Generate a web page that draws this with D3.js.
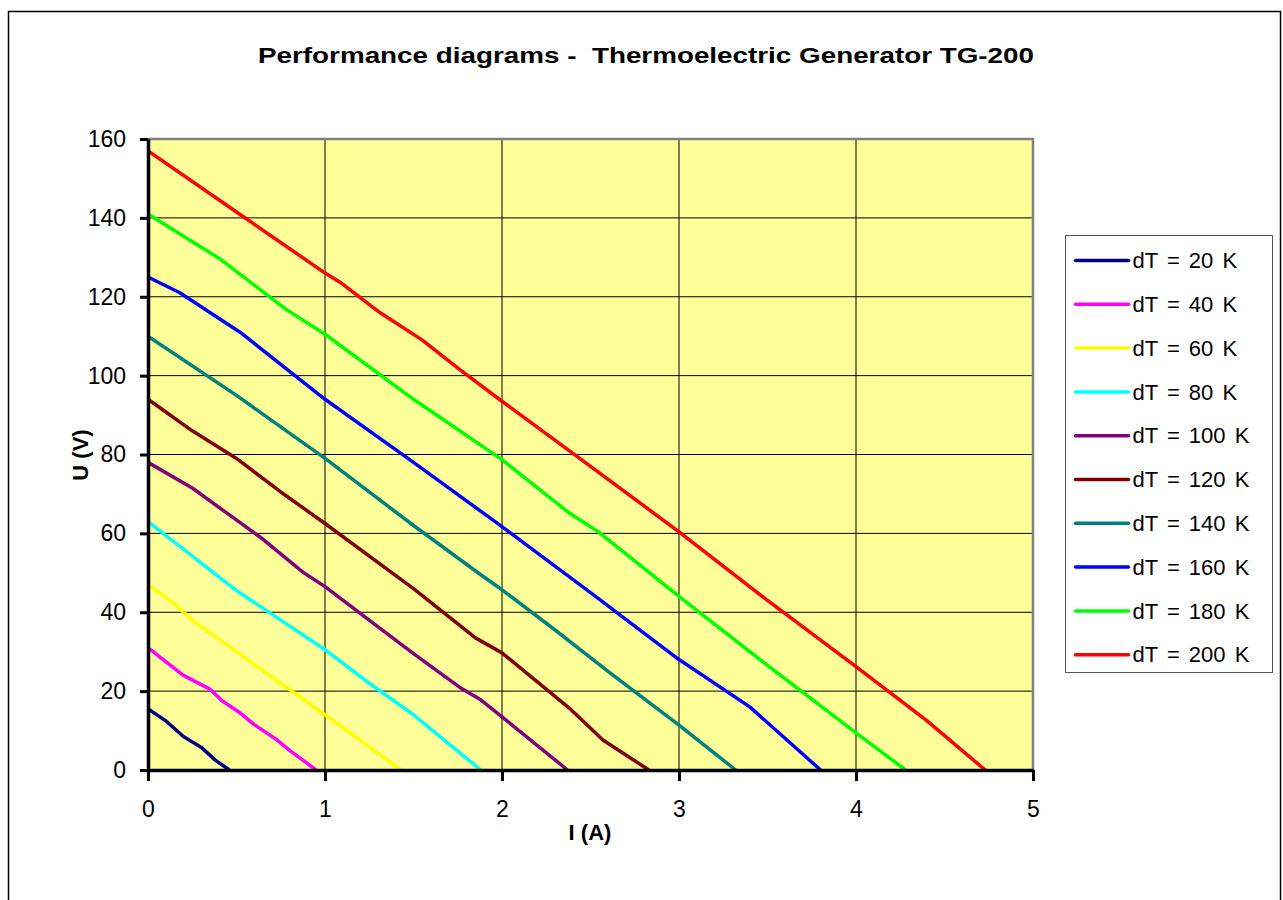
<!DOCTYPE html>
<html>
<head>
<meta charset="utf-8">
<script src="https://cdn.jsdelivr.net/npm/d3@7"></script>
<style>
  body { margin: 0; background: #fff; }
  svg text { font-family: Arial, "Liberation Sans", sans-serif; }
</style>
</head>
<body>
<div id="chart"></div>
<script>
// [I (A), U (V)] points
const dT20 = [[0, 15.5], [0.1, 12.5], [0.2, 8.5], [0.3, 5.8], [0.38, 2.5], [0.46, 0]];
const dT40 = [[0, 31], [0.1, 27.5], [0.2, 24], [0.35, 20.5], [0.42, 17.5], [0.52, 14.5], [0.6, 11.5], [0.73, 7.6], [0.8, 5], [0.95, 0]];
const dT60 = [[0, 47], [0.14, 42.5], [0.25, 38], [0.5, 30], [0.75, 22], [1, 14], [1.2, 7.5], [1.43, 0]];
const dT80 = [[0, 63], [0.2, 56], [0.5, 45.5], [0.75, 38], [1, 30.5], [1.25, 22], [1.5, 14], [1.88, 0]];
const dT100 = [[0, 78], [0.25, 71.5], [0.45, 65], [0.65, 58.5], [0.88, 50], [1, 46.5], [1.27, 37.3], [1.5, 29.5], [1.76, 21], [1.88, 17.8], [2, 13.5], [2.37, 0]];
const dT120 = [[0, 94], [0.25, 86], [0.5, 79], [0.75, 70.5], [1, 62.5], [1.5, 46], [1.85, 33.5], [2, 29.7], [2.1, 26], [2.38, 15.7], [2.57, 7.6], [2.83, 0]];
const dT140 = [[0, 110], [0.5, 95], [1, 79], [1.5, 62], [1.88, 49.5], [2, 45.7], [2.3, 35.5], [2.61, 24.6], [3, 11.4], [3.32, 0]];
const dT160 = [[0, 125], [0.18, 121], [0.52, 111], [1, 94], [1.5, 78], [2, 61.7], [2.5, 45], [3, 28], [3.4, 16], [3.8, 0]];
const dT180 = [[0, 141], [0.41, 129.5], [0.78, 116.8], [1, 110.5], [1.5, 94], [2, 78.7], [2.37, 65.5], [2.55, 60.2], [3, 44], [3.5, 26.5], [4, 9.4], [4.28, 0]];
const dT200 = [[0, 157], [0.5, 141.5], [1, 126], [1.085, 123.7], [1.31, 116], [1.55, 109], [1.76, 101.6], [2, 93.5], [2.5, 77], [3, 60.4], [3.5, 43], [4, 26.2], [4.4, 12.5], [4.73, 0]];

const seriesNames = ["dT = 20 K", "dT = 40 K", "dT = 60 K", "dT = 80 K", "dT = 100 K",
                     "dT = 120 K", "dT = 140 K", "dT = 160 K", "dT = 180 K", "dT = 200 K"];
const seriesValues = [dT20, dT40, dT60, dT80, dT100, dT120, dT140, dT160, dT180, dT200];
const seriesColors = ["#000080", "#ff00ff", "#ffff00", "#00ffff", "#800080",
                      "#800000", "#008080", "#0000ff", "#00ff00", "#ff0000"];

const xTicks = [0, 1, 2, 3, 4, 5];
const yTicks = [0, 20, 40, 60, 80, 100, 120, 140, 160];

const width = 1283;
const height = 900;
const margin = { top: 139, right: 250, bottom: 130, left: 148 };
const plotW = width - margin.left - margin.right;   // 885
const plotH = height - margin.top - margin.bottom;  // 631

const svg = d3.select("#chart")
    .append("svg")
    .attr("width", width)
    .attr("height", height);

// outer chart border
svg.append("rect")
    .attr("x", 8.5)
    .attr("y", 11.5)
    .attr("width", 1272)
    .attr("height", 900)
    .attr("fill", "#fff")
    .attr("stroke", "#000")
    .attr("stroke-width", 1.5);

svg.append("text")
    .text("Performance diagrams -  Thermoelectric Generator TG-200")
    .attr("x", 646)
    .attr("y", 63)
    .attr("text-anchor", "middle")
    .attr("font-weight", "bold")
    .attr("font-size", 22)
    .attr("textLength", 776)
    .attr("lengthAdjust", "spacingAndGlyphs")
    .style("white-space", "pre");

const x = d3.scaleLinear().domain([0, 5]).range([0, plotW]);
const y = d3.scaleLinear().domain([0, 160]).range([plotH, 0]);

const g = svg.append("g")
    .attr("transform", "translate(" + margin.left + "," + margin.top + ")");

g.append("rect")
    .attr("width", plotW)
    .attr("height", plotH)
    .attr("fill", "#ffff99");

// grid
g.append("g")
    .selectAll("line")
    .data(yTicks.slice(1, -1))
    .join("line")
    .attr("x1", 0)
    .attr("x2", plotW)
    .attr("y1", d => y(d))
    .attr("y2", d => y(d))
    .attr("stroke", "#000")
    .attr("stroke-width", 1);

g.append("g")
    .selectAll("line")
    .data(xTicks.slice(1, -1))
    .join("line")
    .attr("x1", d => x(d))
    .attr("x2", d => x(d))
    .attr("y1", 0)
    .attr("y2", plotH)
    .attr("stroke", "#000")
    .attr("stroke-width", 1);

// gray plot frame top/right
g.append("path")
    .attr("d", "M0,0 H" + plotW + " V" + plotH)
    .attr("fill", "none")
    .attr("stroke", "#808080")
    .attr("stroke-width", 2.5);

const line = d3.line()
    .x(d => x(d[0]))
    .y(d => y(d[1]));

g.append("g")
    .selectAll("path")
    .data(seriesValues)
    .join("path")
    .attr("d", line)
    .attr("fill", "none")
    .attr("stroke", (d, i) => seriesColors[i])
    .attr("stroke-width", 3.5)
    .attr("stroke-linejoin", "round");

const yAxis = d3.axisLeft(y)
    .tickValues(yTicks)
    .tickFormat(d3.format("d"))
    .tickSize(8)
    .tickPadding(14)
    .tickSizeOuter(0);

const xAxis = d3.axisBottom(x)
    .tickValues(xTicks)
    .tickFormat(d3.format("d"))
    .tickSize(11)
    .tickPadding(20)
    .tickSizeOuter(0);

const gy = g.append("g").call(yAxis);
const gx = g.append("g")
    .attr("transform", "translate(0," + plotH + ")")
    .call(xAxis);

[gx, gy].forEach(a => {
    a.select(".domain").attr("stroke", "#000").attr("stroke-width", 3.5);
    a.selectAll(".tick line").attr("stroke", "#000").attr("stroke-width", 3);
    a.selectAll(".tick text")
        .attr("font-size", 23)
        .attr("font-family", "Arial, 'Liberation Sans', sans-serif")
        .attr("fill", "#000");
});

svg.append("text")
    .text("U (V)")
    .attr("transform", "translate(88,455) rotate(-90)")
    .attr("text-anchor", "middle")
    .attr("font-weight", "bold")
    .attr("font-size", 22);

svg.append("text")
    .text("I (A)")
    .attr("x", 590)
    .attr("y", 840)
    .attr("text-anchor", "middle")
    .attr("font-weight", "bold")
    .attr("font-size", 22);

// legend
const legend = svg.append("g")
    .attr("transform", "translate(1065.5,235.5)");

legend.append("rect")
    .attr("width", 207)
    .attr("height", 437)
    .attr("fill", "#fff")
    .attr("stroke", "#555")
    .attr("stroke-width", 1);

const item = legend.selectAll("g.item")
    .data(seriesNames)
    .join("g")
    .attr("class", "item")
    .attr("transform", (d, i) => "translate(0," + (25 + i * 43.8) + ")");

item.append("line")
    .attr("x1", 10)
    .attr("x2", 63)
    .attr("stroke", (d, i) => seriesColors[i])
    .attr("stroke-width", 3.5)
    .attr("stroke-linecap", "round");

item.append("text")
    .text(d => d)
    .attr("x", 67)
    .attr("dy", "0.35em")
    .attr("font-size", 22)
    .style("word-spacing", "3px");
</script>
</body>
</html>
